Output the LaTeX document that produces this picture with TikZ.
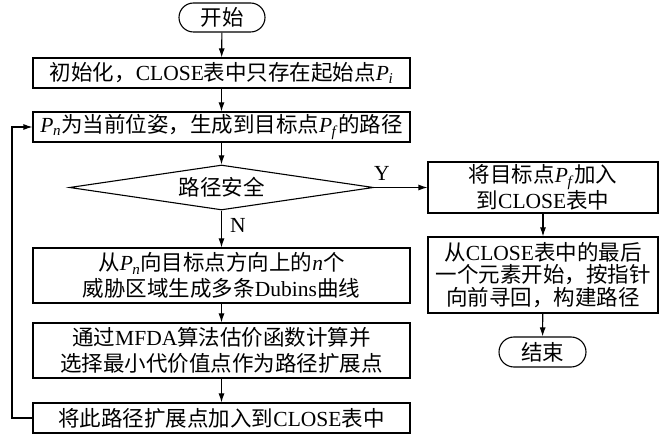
\documentclass[tikz,border=0pt]{standalone}
\usepackage{fontspec}
\setmainfont{Liberation Serif}
\newfontfamily\cjk{Noto Sans CJK SC}
\usetikzlibrary{shapes.geometric,shapes.misc,arrows.meta}
\newcommand\Psub[1]{\textit{P}\kern-0.5pt\textsubscript{\textit{#1}}}
\begin{document}
\begin{tikzpicture}[x=1pt,y=-1pt,
  box/.style={draw, line width=1.1pt, minimum width=377pt, inner sep=2pt, align=center,
    font=\fontsize{21.5}{25.5}\selectfont},
  rbox/.style={draw, line width=1.1pt, minimum width=230pt, inner sep=2pt, align=center,
    font=\fontsize{21.5}{22.5}\selectfont},
  term/.style={draw, rounded rectangle, line width=1.1pt, inner sep=2pt,
    font=\fontsize{21.5}{25}\selectfont},
  lbl/.style={font=\fontsize{21.5}{25}\selectfont, inner sep=0pt},
  arr/.style={-{Latex[length=9pt,width=6pt]}, line width=1.1pt}]
\useasboundingbox (0,0) rectangle (665,438);
\node[term, minimum width=90pt, minimum height=29pt] (st) at (222,17.5) {\cjk 开始};
\node[box, minimum height=30pt] (b1) at (221.5,73) {{\cjk 初始化，}CLOSE{\cjk 表中只存在起始点}\Psub{i}};
\node[box, minimum height=30pt] (b2) at (221.5,127) {\Psub{n}{\cjk 为当前位姿，生成到目标点}\Psub{f}{\cjk 的路径}};
\node[draw, diamond, aspect=6.7, inner sep=0pt, line width=1.1pt, minimum width=304pt, minimum height=45pt,
  font=\fontsize{21.5}{25}\selectfont] (dia) at (221.5,187.5) {\cjk 路径安全};
\node[box, minimum height=55pt] (b3) at (221.5,275.5) {{\cjk 从}\Psub{n}{\cjk 向目标点方向上的}\textit{n}{\cjk 个}\\{\cjk 威胁区域生成多条}Dubins{\cjk 曲线}};
\node[box, minimum height=55pt] (b4) at (221.5,350.5) {{\cjk 通过}MFDA{\cjk 算法估价函数计算并}\\{\cjk 选择最小代价值点作为路径扩展点}};
\node[box, minimum height=30pt] (b5) at (221.5,418) {{\cjk 将此路径扩展点加入到}CLOSE{\cjk 表中}};
\node[rbox, minimum height=51pt] (r1) at (543,187.5) {{\cjk 将目标点}\Psub{f}{\cjk 加入}\\{\cjk 到}CLOSE{\cjk 表中}};
\node[rbox, minimum height=76pt] (r2) at (543,275) {{\cjk 从}CLOSE{\cjk 表中的最后}\\{\cjk 一个元素开始，按指针}\\{\cjk 向前寻回，构建路径}};
\node[term, minimum width=91pt, minimum height=30pt] (en) at (542.5,352) {\cjk 结束};
\node[lbl] (ylab) at (382,173) {Y};
\node[lbl] (nlab) at (238,225) {N};
\coordinate (lp) at (12,418);
\draw[arr] (st) -- (b1);
\draw[arr] (b1) -- (b2);
\draw[arr] (b2) -- (dia);
\draw[arr] (dia) -- (b3);
\draw[arr] (b3) -- (b4);
\draw[arr] (b4) -- (b5);
\draw[arr] (dia.east) -- (r1.west);
\draw[arr] (r1) -- (r2);
\draw[arr] (r2) -- (en);
\draw[arr] (b5.west) -- (lp) |- (b2.west);
\end{tikzpicture}
\end{document}
